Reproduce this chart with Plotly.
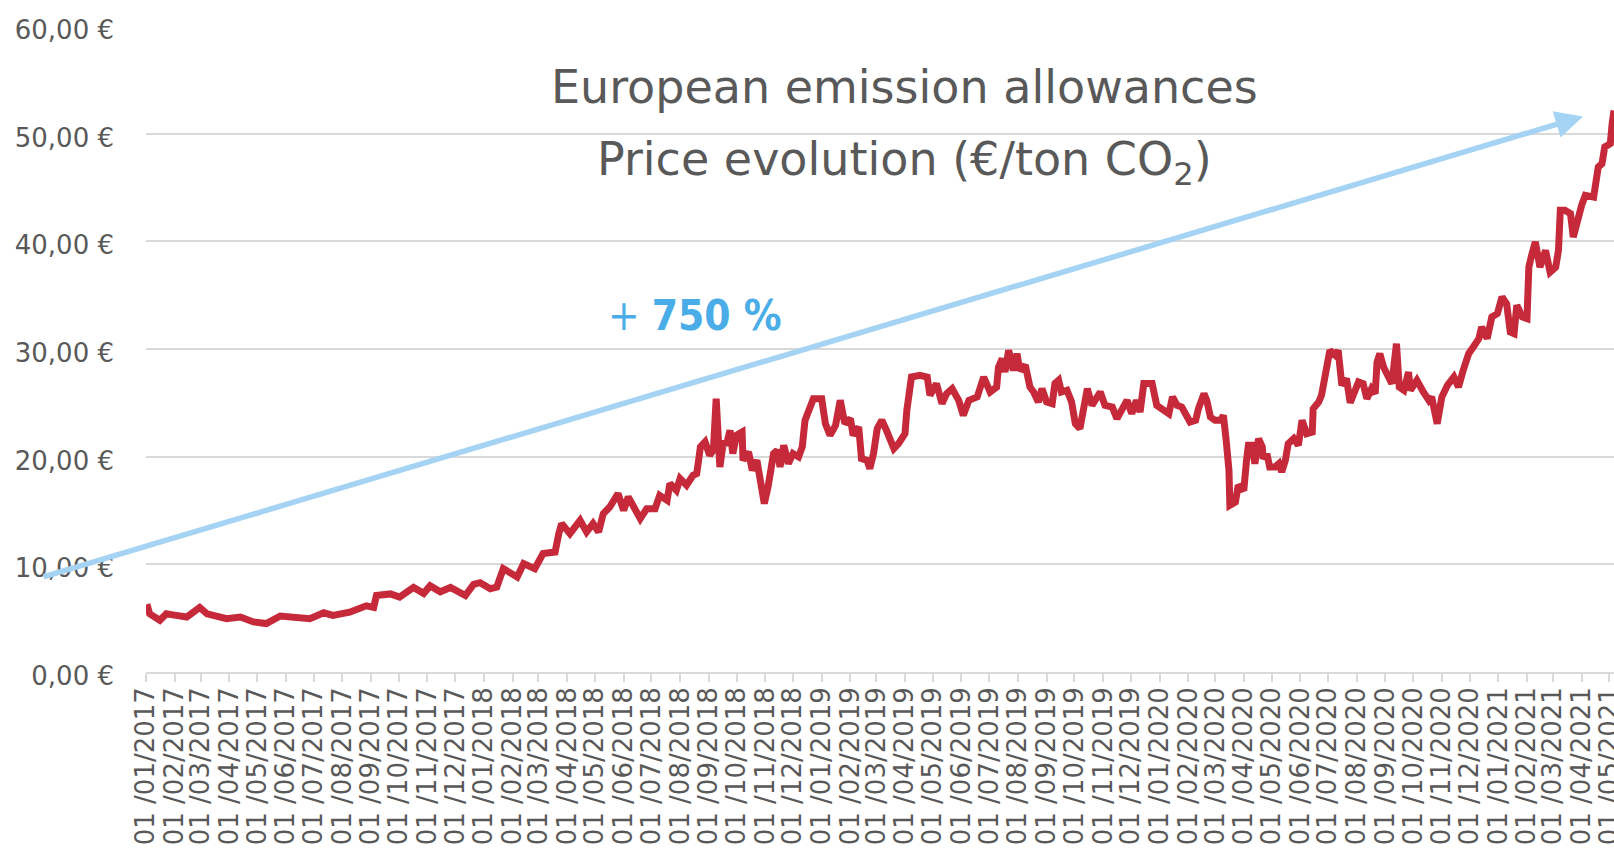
import plotly.graph_objects as go

# ---- data ----
dates_2017 = ["2017-01-02", "2017-01-05", "2017-01-16", "2017-01-23", "2017-01-30", "2017-02-14", "2017-02-28",
              "2017-03-08", "2017-03-29", "2017-04-13", "2017-04-27", "2017-05-11", "2017-05-26", "2017-06-13",
              "2017-06-27", "2017-07-12", "2017-07-22", "2017-08-09", "2017-08-27", "2017-09-04", "2017-09-07",
              "2017-09-22", "2017-10-02", "2017-10-17", "2017-10-28", "2017-11-04", "2017-11-15", "2017-11-26",
              "2017-12-12", "2017-12-21", "2017-12-28"]
prices_2017 = [6.3, 5.4, 4.8, 5.4, 5.3, 5.1, 6.0, 5.4, 4.95, 5.1, 4.65, 4.5, 5.2, 5.1, 4.95, 5.5, 5.25, 5.55,
               6.15, 6.0, 7.1, 7.25, 6.95, 7.85, 7.3, 8.0, 7.45, 7.85, 7.1, 8.15, 8.3]

dates_2018 = ["2018-01-08", "2018-01-15", "2018-01-22", "2018-01-29", "2018-02-06", "2018-02-13", "2018-02-25",
              "2018-03-06", "2018-03-19", "2018-03-23", "2018-03-26", "2018-04-04", "2018-04-15", "2018-04-22",
              "2018-04-29", "2018-05-05", "2018-05-10", "2018-05-17", "2018-05-26", "2018-06-01", "2018-06-06",
              "2018-06-19", "2018-06-26", "2018-07-05", "2018-07-10", "2018-07-18", "2018-07-21", "2018-07-28",
              "2018-08-01", "2018-08-08", "2018-08-15", "2018-08-19", "2018-08-23", "2018-08-28", "2018-09-02",
              "2018-09-06", "2018-09-09", "2018-09-13", "2018-09-17", "2018-09-20", "2018-09-24", "2018-09-27",
              "2018-10-01", "2018-10-07", "2018-10-08", "2018-10-14", "2018-10-18", "2018-10-23", "2018-10-26",
              "2018-10-31", "2018-11-04", "2018-11-10", "2018-11-14", "2018-11-17", "2018-11-21", "2018-11-26",
              "2018-12-01", "2018-12-07", "2018-12-11", "2018-12-14", "2018-12-23"]
prices_2018 = [7.74, 7.89, 9.6, 9.29, 8.82, 10.06, 9.6, 11.0, 11.14, 12.85, 13.78, 12.85, 14.09, 13.0, 13.78,
               13.0, 14.7, 15.32, 16.56, 15.0, 16.25, 14.24, 15.17, 15.17, 16.4, 15.94, 17.5, 16.87, 17.96,
               17.34, 18.26, 18.42, 20.9, 21.36, 20.12, 20.6, 25.38, 19.04, 21.5, 21.05, 22.44, 20.28, 21.98,
               22.28, 19.66, 20.43, 18.73, 19.66, 18.42, 15.64, 17.18, 20.28, 20.59, 19.04, 21.05, 19.35,
               20.28, 19.97, 20.9, 23.37, 25.38]

dates_2019 = ["2019-01-01", "2019-01-05", "2019-01-10", "2019-01-16", "2019-01-21", "2019-01-26", "2019-02-01",
              "2019-02-04", "2019-02-10", "2019-02-13", "2019-02-19", "2019-02-22", "2019-02-26", "2019-03-02",
              "2019-03-07", "2019-03-12", "2019-03-20", "2019-03-25", "2019-04-01", "2019-04-03", "2019-04-08",
              "2019-04-17", "2019-04-25", "2019-04-28", "2019-05-05", "2019-05-11", "2019-05-16", "2019-05-22",
              "2019-05-29", "2019-06-03", "2019-06-09", "2019-06-18", "2019-06-25", "2019-07-02", "2019-07-04",
              "2019-07-09", "2019-07-11", "2019-07-15", "2019-07-18", "2019-07-22", "2019-07-27", "2019-07-31",
              "2019-08-03", "2019-08-09", "2019-08-14", "2019-08-18", "2019-08-23", "2019-08-27", "2019-09-01",
              "2019-09-07", "2019-09-10", "2019-09-14", "2019-09-17", "2019-09-23", "2019-09-28", "2019-10-02",
              "2019-10-07", "2019-10-11", "2019-10-15", "2019-10-20", "2019-10-23", "2019-10-29", "2019-11-03",
              "2019-11-11", "2019-11-16", "2019-11-21", "2019-11-27", "2019-12-02", "2019-12-07", "2019-12-11",
              "2019-12-15", "2019-12-20", "2019-12-24", "2019-12-29"]
prices_2019 = [25.38, 23.06, 21.98, 22.9, 25.23, 23.06, 23.53, 21.98, 22.75, 19.81, 19.66, 18.88, 20.28,
               22.6, 23.37, 22.44, 20.74, 21.2, 22.13, 24.3, 27.39, 27.55, 27.39, 25.69, 26.78, 24.92, 25.85,
               26.31, 25.23, 23.83, 25.23, 25.54, 27.39, 26.0, 26.16, 26.46, 28.32, 29.1, 27.86, 29.87, 28.0,
               29.56, 28.0, 28.48, 26.46, 26.0, 25.07, 26.31, 25.07, 24.92, 26.78, 27.09, 26.0, 26.16, 25.07,
               23.06, 22.6, 24.14, 26.31, 24.76, 25.23, 26.0, 24.76, 24.6, 23.53, 24.3, 25.23, 23.99, 25.23,
               24.14, 26.78, 26.78, 26.78, 24.76]

dates_2020 = ["2020-01-05", "2020-01-11", "2020-01-15", "2020-01-20", "2020-01-25", "2020-01-29", "2020-02-03",
              "2020-02-09", "2020-02-12", "2020-02-18", "2020-02-21", "2020-02-25", "2020-03-01", "2020-03-07",
              "2020-03-10", "2020-03-13", "2020-03-16", "2020-03-17", "2020-03-23", "2020-03-26", "2020-04-01",
              "2020-04-04", "2020-04-06", "2020-04-10", "2020-04-13", "2020-04-17", "2020-04-21", "2020-04-22",
              "2020-04-26", "2020-04-29", "2020-05-05", "2020-05-09", "2020-05-12", "2020-05-16", "2020-05-19",
              "2020-05-25", "2020-05-30", "2020-06-03", "2020-06-08", "2020-06-14", "2020-06-15", "2020-06-21",
              "2020-06-24", "2020-06-28", "2020-07-03", "2020-07-09", "2020-07-12", "2020-07-16", "2020-07-21",
              "2020-07-25", "2020-07-30", "2020-08-03", "2020-08-08", "2020-08-12", "2020-08-17", "2020-08-21",
              "2020-08-23", "2020-08-26", "2020-08-30", "2020-09-04", "2020-09-08", "2020-09-13", "2020-09-16",
              "2020-09-21", "2020-09-26", "2020-09-28", "2020-10-05", "2020-10-12", "2020-10-18", "2020-10-21",
              "2020-10-27", "2020-11-01", "2020-11-07", "2020-11-14", "2020-11-19", "2020-11-24", "2020-11-30",
              "2020-12-05", "2020-12-11", "2020-12-14", "2020-12-20", "2020-12-25", "2020-12-31"]
prices_2020 = [24.3, 23.99, 25.54, 24.76, 24.6, 23.83, 23.21, 23.37, 24.45, 25.85, 25.23, 23.68, 23.37,
               23.37, 23.83, 21.51, 18.73, 15.48, 15.78, 17.34, 16.87, 19.66, 21.05, 21.05, 19.35, 21.67,
               20.9, 19.81, 20.28, 19.04, 19.04, 19.35, 18.57, 19.66, 21.2, 21.67, 21.05, 23.37, 22.13, 22.28,
               24.45, 25.07, 25.69, 27.55, 29.87, 29.4, 29.87, 26.62, 27.24, 25.0, 26.0, 26.93, 26.78, 25.38,
               26.3, 25.85, 28.78, 29.56, 28.32, 27.55, 26.78, 30.49, 26.46, 26.16, 27.85, 26.16, 27.09, 26.0,
               25.23, 25.54, 23.06, 25.54, 26.62, 27.39, 26.46, 28.0, 29.56, 30.18, 30.96, 32.03, 30.96, 32.96,
               33.28]

dates_2021 = ["2021-01-05", "2021-01-10", "2021-01-14", "2021-01-18", "2021-01-21", "2021-01-27", "2021-02-01",
              "2021-02-03", "2021-02-06", "2021-02-10", "2021-02-15", "2021-02-21", "2021-02-26", "2021-03-04",
              "2021-03-07", "2021-03-09", "2021-03-14", "2021-03-20", "2021-03-23", "2021-03-27", "2021-04-01",
              "2021-04-05", "2021-04-10", "2021-04-14", "2021-04-19", "2021-04-23", "2021-04-26", "2021-05-02",
              "2021-05-04", "2021-05-06"]
prices_2021 = [34.82, 34.2, 31.57, 31.42, 34.05, 32.96, 32.81, 37.6, 38.69, 39.93, 37.6, 39.15, 37.14, 37.6,
               39.15, 42.87, 42.87, 42.56, 40.39, 41.94, 43.33, 44.26, 44.1, 44.1, 46.89, 47.2, 48.75, 49.06,
               50.92, 52.15]

dates = dates_2017 + dates_2018 + dates_2019 + dates_2020 + dates_2021
prices = prices_2017 + prices_2018 + prices_2019 + prices_2020 + prices_2021

# axis ticks
y_tick_values = [0, 10, 20, 30, 40, 50, 60]
y_tick_labels = ["0,00 €", "10,00 €", "20,00 €", "30,00 €", "40,00 €", "50,00 €", "60,00 €"]
x_tick_values = []
x_tick_labels = []
for yr in range(2017, 2022):
    for mo in range(1, 13):
        if yr == 2021 and mo > 5:
            break
        x_tick_values.append(f"{yr}-{mo:02d}-01")
        x_tick_labels.append(f"01 /{mo:02d}/{yr}")

title_line1 = "European emission allowances"
title_line2 = "Price evolution (€/ton CO<sub>2</sub>)"
growth_label = "+ <b>750 %</b>"

GREY = "#595959"
GRID = "#D9D9D9"
FONT = "DejaVu Sans"
CFONT = "DejaVu Sans Condensed, DejaVu Sans"

fig = go.Figure()
fig.add_trace(go.Scatter(
    x=dates, y=prices, mode="lines",
    line=dict(color="#C62A3A", width=7),
    hoverinfo="skip", showlegend=False,
))

fig.update_layout(
    width=1614, height=855,
    margin=dict(l=146, r=0, t=25, b=183, autoexpand=False),
    paper_bgcolor="white", plot_bgcolor="white",
    showlegend=False,
    xaxis=dict(
        type="date",
        range=["2017-01-01", "2021-05-06"],
        automargin=False,
        tickmode="array", tickvals=x_tick_values, ticktext=x_tick_labels,
        tickangle=-90,
        ticks="outside", ticklen=8, tickwidth=1.5, tickcolor=GRID,
        ticklabelstandoff=-5, ticklabeloverflow="allow",
        showline=True, linecolor=GRID, linewidth=1.5,
        showgrid=False, zeroline=False,
        tickfont=dict(family=FONT, size=26, color=GREY),
    ),
    yaxis=dict(
        range=[0, 60.08],
        automargin=False,
        tickmode="array", tickvals=y_tick_values, ticktext=y_tick_labels,
        showgrid=True, gridcolor=GRID, gridwidth=1.5,
        zeroline=False, showline=False, ticks="",
        ticklabelstandoff=31, ticklabelshift=4,
        tickfont=dict(family=FONT, size=26, color=GREY),
    ),
    annotations=[
        dict(text=title_line1, xref="paper", yref="paper", x=0.517, y=0.9036,
             xanchor="center", yanchor="middle", showarrow=False,
             font=dict(family=FONT, size=46, color=GREY)),
        dict(text=title_line2, xref="paper", yref="paper", x=0.517, y=0.7875,
             xanchor="center", yanchor="middle", showarrow=False,
             font=dict(family=FONT, size=46, color=GREY)),
        dict(text=growth_label, xref="paper", yref="paper", x=0.374, y=0.5506,
             xanchor="center", yanchor="middle", showarrow=False,
             font=dict(family=CFONT, size=42, color="#4AADE7")),
        dict(text="", xref="paper", yref="paper", x=0.9789, y=0.8587,
             ax=-1541, ay=461, axref="pixel", ayref="pixel",
             showarrow=True, arrowhead=2, arrowsize=1.0, arrowwidth=5.5,
             arrowcolor="#A4D3F3", standoff=0),
    ],
)

# remove the browser's default 8px page margin so the figure fills the window exactly
fig.write_html("out.html", config={"displayModeBar": False},
               post_script="document.body.style.margin='0';")
